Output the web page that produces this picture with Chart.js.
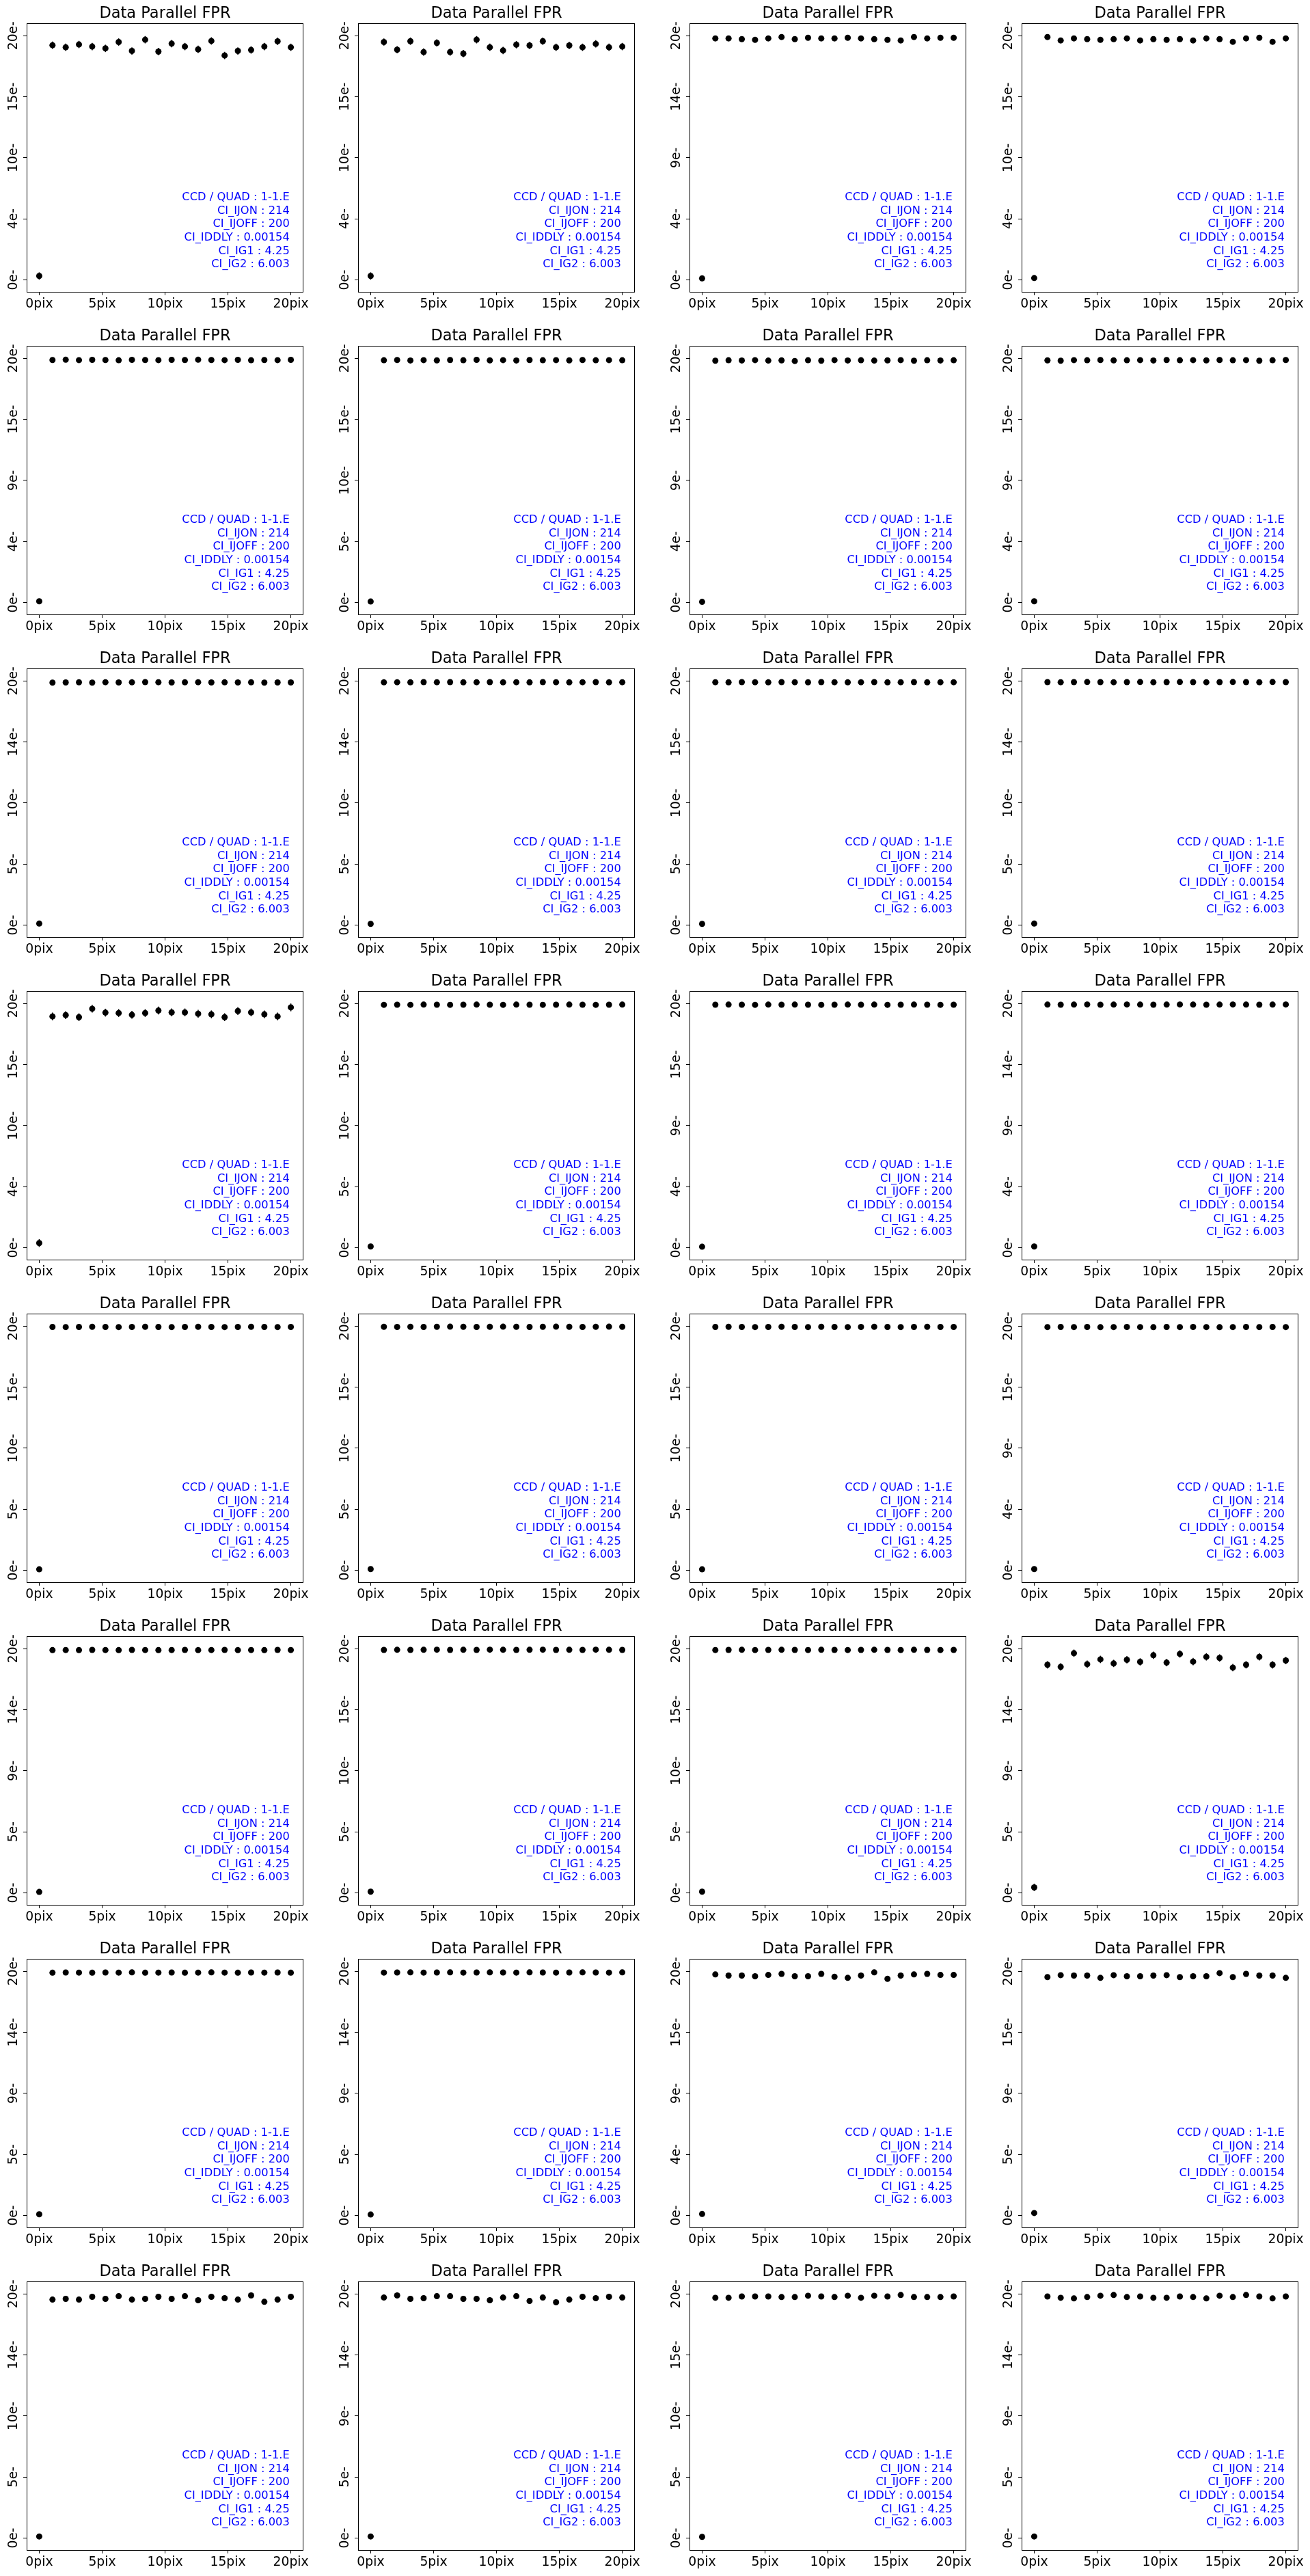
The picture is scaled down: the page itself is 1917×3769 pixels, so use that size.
<!DOCTYPE html>
<html><head><meta charset="utf-8">
<script src="https://cdn.jsdelivr.net/npm/chart.js@4.4.1/dist/chart.umd.min.js"></script>
<style>
html,body{margin:0;padding:0;background:#fff;}
body{width:1917px;height:3769px;position:relative;overflow:hidden;}
canvas{position:absolute;}
</style></head><body>
<script>
// ---------- data ----------
const xs = [0, 1.053, 2.105, 3.158, 4.211, 5.263, 6.316, 7.368, 8.421, 9.474, 10.526, 11.579, 12.632, 13.684, 14.737, 15.789, 16.842, 17.895, 18.947, 20];
const xTickValues = [0, 5, 10, 15, 20];
const xTickLabels = ['0pix', '5pix', '10pix', '15pix', '20pix'];
const yTickValues = [0, 5, 10, 15, 20];
const titleText = 'Data Parallel FPR';
const infoLines = ['CCD / QUAD : 1-1.E', 'CI_IJON : 214', 'CI_IJOFF : 200', 'CI_IDDLY : 0.00154', 'CI_IG1 : 4.25', 'CI_IG2 : 6.003'];

const p01 = [0.32, 19.22, 19.05, 19.28, 19.11, 18.96, 19.48, 18.75, 19.67, 18.70, 19.35, 19.11, 18.88, 19.57, 18.38, 18.75, 18.83, 19.11, 19.54, 19.05];
const p02 = [0.32, 19.48, 18.85, 19.55, 18.66, 19.41, 18.66, 18.53, 19.67, 19.05, 18.79, 19.26, 19.20, 19.55, 19.05, 19.20, 19.05, 19.33, 19.05, 19.11];
const p03 = [0.12, 19.78, 19.78, 19.72, 19.66, 19.78, 19.89, 19.72, 19.83, 19.78, 19.78, 19.83, 19.78, 19.72, 19.66, 19.61, 19.89, 19.78, 19.83, 19.83];
const p04 = [0.15, 19.89, 19.61, 19.78, 19.72, 19.66, 19.72, 19.78, 19.61, 19.72, 19.66, 19.72, 19.61, 19.78, 19.72, 19.50, 19.78, 19.83, 19.50, 19.78];
const p05 = [0.10, 19.86, 19.88, 19.85, 19.87, 19.86, 19.84, 19.87, 19.86, 19.85, 19.87, 19.86, 19.88, 19.86, 19.85, 19.87, 19.84, 19.86, 19.85, 19.87];
const p06 = [0.08, 19.84, 19.86, 19.82, 19.85, 19.83, 19.86, 19.84, 19.87, 19.83, 19.85, 19.82, 19.86, 19.84, 19.85, 19.83, 19.86, 19.84, 19.85, 19.84];
const p07 = [0.05, 19.80, 19.84, 19.82, 19.85, 19.81, 19.83, 19.78, 19.84, 19.80, 19.85, 19.82, 19.84, 19.81, 19.83, 19.85, 19.80, 19.84, 19.82, 19.84];
const p08 = [0.10, 19.83, 19.80, 19.85, 19.84, 19.86, 19.83, 19.84, 19.85, 19.82, 19.86, 19.84, 19.85, 19.83, 19.86, 19.84, 19.85, 19.80, 19.84, 19.86];
const p09 = [0.12, 19.86, 19.87, 19.88, 19.86, 19.89, 19.87, 19.88, 19.90, 19.89, 19.87, 19.88, 19.89, 19.87, 19.88, 19.87, 19.88, 19.86, 19.87, 19.87];
const p10 = [0.10, 19.88, 19.89, 19.88, 19.90, 19.89, 19.90, 19.88, 19.89, 19.90, 19.88, 19.89, 19.88, 19.90, 19.89, 19.88, 19.89, 19.90, 19.88, 19.89];
const p11 = [0.10, 19.89, 19.88, 19.90, 19.89, 19.88, 19.90, 19.89, 19.88, 19.90, 19.89, 19.88, 19.89, 19.90, 19.88, 19.89, 19.90, 19.88, 19.89, 19.89];
const p12 = [0.12, 19.90, 19.89, 19.90, 19.91, 19.90, 19.89, 19.90, 19.91, 19.89, 19.90, 19.91, 19.90, 19.89, 19.90, 19.91, 19.90, 19.89, 19.91, 19.90];
const p13 = [0.38, 18.94, 19.05, 18.88, 19.57, 19.25, 19.22, 19.07, 19.22, 19.42, 19.27, 19.27, 19.16, 19.11, 18.88, 19.38, 19.27, 19.11, 18.94, 19.68];
const p14 = [0.10, 19.89, 19.90, 19.89, 19.91, 19.90, 19.89, 19.90, 19.91, 19.90, 19.89, 19.91, 19.90, 19.89, 19.90, 19.91, 19.90, 19.89, 19.90, 19.91];
const p15 = [0.08, 19.90, 19.91, 19.90, 19.89, 19.91, 19.90, 19.91, 19.90, 19.89, 19.90, 19.91, 19.90, 19.91, 19.89, 19.90, 19.91, 19.90, 19.89, 19.90];
const p16 = [0.10, 19.91, 19.90, 19.91, 19.92, 19.90, 19.91, 19.92, 19.91, 19.90, 19.91, 19.92, 19.91, 19.90, 19.91, 19.92, 19.91, 19.90, 19.91, 19.92];
const p17 = [0.08, 19.93, 19.92, 19.93, 19.94, 19.93, 19.92, 19.93, 19.94, 19.93, 19.92, 19.93, 19.94, 19.93, 19.92, 19.93, 19.94, 19.93, 19.92, 19.93];
const p18 = [0.10, 19.94, 19.93, 19.94, 19.93, 19.94, 19.95, 19.94, 19.93, 19.94, 19.95, 19.94, 19.93, 19.94, 19.95, 19.94, 19.93, 19.94, 19.95, 19.94];
const p19 = [0.08, 19.93, 19.94, 19.93, 19.92, 19.93, 19.94, 19.93, 19.92, 19.94, 19.93, 19.92, 19.93, 19.94, 19.93, 19.92, 19.93, 19.94, 19.93, 19.93];
const p20 = [0.10, 19.92, 19.93, 19.92, 19.93, 19.91, 19.92, 19.93, 19.92, 19.91, 19.93, 19.92, 19.93, 19.92, 19.91, 19.92, 19.93, 19.92, 19.93, 19.92];
const p21 = [0.08, 19.88, 19.89, 19.88, 19.90, 19.89, 19.88, 19.90, 19.89, 19.88, 19.89, 19.90, 19.88, 19.89, 19.90, 19.88, 19.89, 19.88, 19.90, 19.89];
const p22 = [0.10, 19.90, 19.91, 19.90, 19.91, 19.92, 19.90, 19.91, 19.90, 19.92, 19.91, 19.90, 19.91, 19.92, 19.90, 19.91, 19.90, 19.92, 19.91, 19.90];
const p23 = [0.10, 19.89, 19.90, 19.91, 19.89, 19.90, 19.91, 19.90, 19.89, 19.91, 19.90, 19.89, 19.90, 19.91, 19.90, 19.89, 19.91, 19.90, 19.89, 19.90];
const p24 = [0.45, 18.68, 18.51, 19.63, 18.73, 19.12, 18.79, 19.09, 18.92, 19.46, 18.86, 19.57, 18.94, 19.33, 19.24, 18.45, 18.68, 19.33, 18.68, 19.03];
const p25 = [0.10, 19.88, 19.90, 19.89, 19.88, 19.90, 19.89, 19.91, 19.88, 19.89, 19.90, 19.88, 19.89, 19.91, 19.89, 19.88, 19.90, 19.89, 19.90, 19.88];
const p26 = [0.08, 19.89, 19.90, 19.91, 19.89, 19.90, 19.91, 19.89, 19.90, 19.91, 19.90, 19.89, 19.91, 19.90, 19.89, 19.90, 19.91, 19.90, 19.89, 19.91];
const p27 = [0.12, 19.74, 19.65, 19.65, 19.59, 19.70, 19.79, 19.59, 19.59, 19.79, 19.55, 19.46, 19.65, 19.91, 19.38, 19.65, 19.74, 19.79, 19.70, 19.70];
const p28 = [0.20, 19.52, 19.68, 19.65, 19.65, 19.46, 19.68, 19.59, 19.59, 19.65, 19.68, 19.52, 19.59, 19.59, 19.85, 19.52, 19.79, 19.65, 19.65, 19.46];
const p29 = [0.13, 19.53, 19.59, 19.53, 19.76, 19.59, 19.81, 19.53, 19.59, 19.76, 19.59, 19.81, 19.48, 19.76, 19.65, 19.53, 19.87, 19.35, 19.53, 19.76];
const p30 = [0.13, 19.70, 19.87, 19.59, 19.65, 19.81, 19.81, 19.59, 19.59, 19.48, 19.70, 19.81, 19.42, 19.70, 19.31, 19.53, 19.76, 19.65, 19.76, 19.70];
const p31 = [0.10, 19.68, 19.68, 19.79, 19.79, 19.79, 19.74, 19.74, 19.85, 19.79, 19.74, 19.85, 19.68, 19.85, 19.79, 19.91, 19.74, 19.74, 19.74, 19.79];
const p32 = [0.13, 19.79, 19.68, 19.63, 19.74, 19.85, 19.91, 19.74, 19.79, 19.68, 19.68, 19.79, 19.74, 19.63, 19.85, 19.74, 19.91, 19.79, 19.63, 19.79];

const panelValues = [p01,p02,p03,p04,p05,p06,p07,p08,p09,p10,p11,p12,p13,p14,p15,p16,
                     p17,p18,p19,p20,p21,p22,p23,p24,p25,p26,p27,p28,p29,p30,p31,p32];

// y tick labels per panel (bottom to top)
const yLabA = ['0e-','4e-','10e-','15e-','20e-'];
const yLabB = ['0e-','4e-','9e-','14e-','20e-'];
const yLabC = ['0e-','4e-','9e-','15e-','20e-'];
const yLabD = ['0e-','5e-','10e-','15e-','20e-'];
const yLabE = ['0e-','5e-','10e-','14e-','20e-'];
const yLabF = ['0e-','5e-','9e-','14e-','20e-'];
const yLabG = ['0e-','5e-','9e-','15e-','20e-'];
const panelYLabels = [yLabA,yLabA,yLabB,yLabA, yLabC,yLabD,yLabC,yLabC, yLabE,yLabE,yLabD,yLabE,
                      yLabA,yLabD,yLabC,yLabB, yLabD,yLabD,yLabD,yLabC, yLabF,yLabD,yLabD,yLabF,
                      yLabF,yLabF,yLabC,yLabG, yLabE,yLabF,yLabD,yLabF];

// error bar half-length per panel
const panelErr = [0.3,0.3,0,0, 0,0,0,0, 0,0,0,0, 0.32,0,0,0, 0,0,0,0, 0,0,0,0.3, 0,0,0,0, 0,0,0,0];

// ---------- layout ----------
const FONT = "'DejaVu Sans', 'Liberation Sans', sans-serif";
const AX_LEFTS = [39, 524, 1009, 1495];
const AX_TOP0 = 34, ROW_PITCH = 472, AX_W = 405, AX_H = 393;
const PADL = 40, PADT = 34, PADR = 40, PADB = 40;

function makeDecor(i) {
  return {
    id: 'decor' + i,
    beforeDatasetsDraw(chart) {
      const err = panelErr[i];
      if (!err) return;
      const ctx = chart.ctx, xS = chart.scales.x, yS = chart.scales.y;
      ctx.save();
      ctx.strokeStyle = '#000';
      ctx.lineWidth = 1.5;
      panelValues[i].forEach((v, j) => {
        const px = xS.getPixelForValue(xs[j]);
        ctx.beginPath();
        ctx.moveTo(px, yS.getPixelForValue(v - err));
        ctx.lineTo(px, yS.getPixelForValue(v + err));
        ctx.stroke();
      });
      ctx.restore();
    },
    afterDraw(chart) {
      const ctx = chart.ctx, a = chart.chartArea, yS = chart.scales.y;
      ctx.save();
      // frame
      ctx.strokeStyle = '#000';
      ctx.lineWidth = 1;
      ctx.strokeRect(Math.round(a.left) + 0.5, Math.round(a.top) + 0.5, AX_W - 1, AX_H);
      // title
      ctx.fillStyle = '#000';
      ctx.font = '22.5px ' + FONT;
      ctx.textAlign = 'center';
      ctx.textBaseline = 'alphabetic';
      ctx.fillText(titleText, (a.left + a.right) / 2, a.top - 8);
      // y tick labels (rotated)
      ctx.font = '18.75px ' + FONT;
      yTickValues.forEach((v, k) => {
        const py = yS.getPixelForValue(v);
        ctx.save();
        ctx.translate(a.left - 14.3, py);
        ctx.rotate(-Math.PI / 2);
        ctx.textAlign = 'center';
        ctx.fillText(panelYLabels[i][k], 0, 0);
        ctx.restore();
      });
      // info text
      ctx.fillStyle = '#0000ff';
      ctx.font = '16.3px ' + FONT;
      ctx.textAlign = 'right';
      const tx = a.left + 0.95 * AX_W;
      const n = infoLines.length;
      infoLines.forEach((s, k) => {
        ctx.fillText(s, tx, a.bottom - 35.6 - (n - 1 - k) * 19.7);
      });
      ctx.restore();
    }
  };
}

panelValues.forEach((vals, i) => {
  const r = Math.floor(i / 4), c = i % 4;
  const W = PADL + AX_W + PADR, H = PADT + AX_H + PADB;
  const cv = document.createElement('canvas');
  cv.width = W; cv.height = H;
  cv.style.left = (AX_LEFTS[c] - PADL) + 'px';
  cv.style.top = (AX_TOP0 + r * ROW_PITCH - PADT) + 'px';
  cv.style.width = W + 'px'; cv.style.height = H + 'px';
  document.body.appendChild(cv);

  const gridOpts = { display: true, drawOnChartArea: false, drawTicks: true, tickLength: 5, color: '#000', lineWidth: 1 };
  new Chart(cv, {
    type: 'scatter',
    data: { datasets: [{
      data: xs.map((x, j) => ({ x: x, y: vals[j] })),
      backgroundColor: '#000', borderColor: '#000', borderWidth: 0,
      pointRadius: 4.5, pointHoverRadius: 4.5, pointStyle: 'circle'
    }] },
    options: {
      responsive: false, animation: false, devicePixelRatio: 1,
      events: [],
      layout: { padding: { left: 0, top: PADT, right: PADR, bottom: 0 } },
      plugins: { legend: { display: false }, tooltip: { enabled: false }, title: { display: false } },
      scales: {
        x: {
          type: 'linear', min: -1, max: 21,
          afterBuildTicks: s => { s.ticks = xTickValues.map(v => ({ value: v })); },
          afterFit: s => { s.height = PADB; s.paddingLeft = 0; s.paddingRight = 0; },
          grid: gridOpts, border: { display: false },
          ticks: { autoSkip: false, maxRotation: 0, minRotation: 0, padding: 2, color: '#000',
                   font: { family: FONT, size: 18.75 },
                   callback: v => xTickLabels[xTickValues.indexOf(v)] }
        },
        y: {
          type: 'linear', min: -0.98, max: 21.02,
          afterBuildTicks: s => { s.ticks = yTickValues.map(v => ({ value: v })); },
          afterFit: s => { s.width = PADL; s.paddingTop = 0; s.paddingBottom = 0; },
          grid: gridOpts, border: { display: false },
          ticks: { display: false }
        }
      }
    },
    plugins: [makeDecor(i)]
  });
});
</script>
</body></html>
